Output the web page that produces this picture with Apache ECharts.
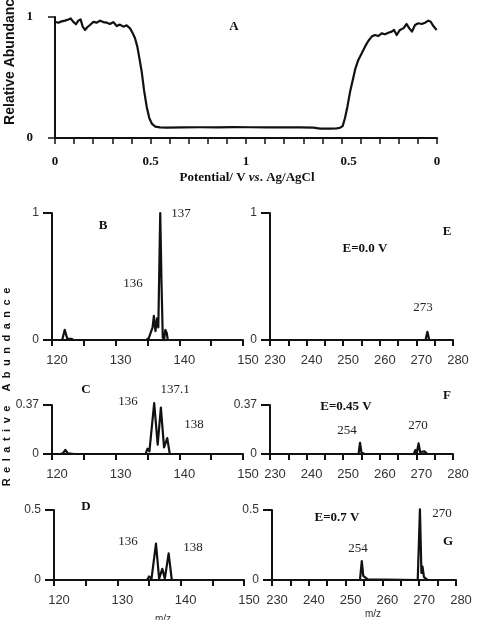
<!DOCTYPE html>
<html><head><meta charset="utf-8">
<script src="https://cdn.jsdelivr.net/npm/echarts@6/dist/echarts.min.js"></script>
<style>html,body{margin:0;padding:0;background:#fff}#c{width:478px;height:620px}</style>
</head><body><div id="c"></div>
<script>
// ---- Panel A: abundance vs potential sweep (0 -> 1 V -> 0) ----
const potentialTicks = ['0', '0.5', '1', '0.5', '0'];
const sweepA = [0.0,0.0175,0.0349,0.0524,0.0698,0.082,0.096,0.110,0.122,0.134,0.145,0.157,0.169,0.183,0.201,0.218,0.236,0.253,0.271,0.288,0.305,0.323,0.340,0.358,0.375,0.393,0.407,0.419,0.431,0.442,0.454,0.466,0.480,0.494,0.508,0.525,0.550,0.585,0.672,0.759,0.846,0.934,1.021,1.108,1.196,1.283,1.353,1.388,1.440,1.475,1.492,1.506,1.518,1.531,1.545,1.559,1.573,1.588,1.606,1.623,1.641,1.658,1.675,1.693,1.710,1.728,1.745,1.763,1.775,1.789,1.806,1.824,1.841,1.855,1.869,1.885,1.902,1.920,1.937,1.955,1.967,1.981,1.998];
const abundanceA = [0.961,0.953,0.964,0.97,0.98,0.988,0.96,0.94,0.97,0.98,0.92,0.893,0.915,0.934,0.96,0.953,0.97,0.958,0.953,0.942,0.958,0.925,0.937,0.92,0.931,0.906,0.865,0.824,0.755,0.658,0.548,0.397,0.259,0.163,0.116,0.094,0.088,0.085,0.087,0.089,0.088,0.09,0.089,0.088,0.087,0.087,0.085,0.078,0.077,0.079,0.085,0.098,0.163,0.259,0.383,0.48,0.576,0.645,0.7,0.755,0.804,0.838,0.851,0.843,0.865,0.857,0.87,0.879,0.893,0.851,0.893,0.906,0.942,0.906,0.879,0.934,0.948,0.942,0.953,0.97,0.961,0.925,0.893];

// ---- Mass spectra (m/z, relative abundance) ----
const mzB = [120,121.6,122.0,122.4,123.0,123.4,134.8,135.2,135.5,135.8,136.0,136.25,136.5,136.7,137.0,137.2,137.4,137.6,137.8,138.0,138.2,150];
const abB = [0,0,0.08,0.01,0.01,0,0,0.015,0.0,0.1,0.19,0.07,0.17,0.1,1.0,0.45,0.02,0,0.08,0.06,0,0];
const mzE = [230,272.5,273.0,273.5,280];
const abE = [0,0,0.065,0,0];
const mzC = [120,120.7,121.0,121.3,121.7,122.1,122.5,123.5,134.7,135.0,135.3,135.6,136.05,136.6,137.1,137.6,138.1,138.5,150];
const abC = [0,0,0.012,0,0.005,0.03,0.005,0,0,0.04,0.02,0.03,0.385,0.07,0.35,0.05,0.12,0,0];
const mzF = [230,254.2,254.6,255.0,255.5,256,269.3,269.7,270.1,270.6,271.0,271.5,272.2,272.6,273,280];
const abF = [0,0,0.085,0.01,0.005,0,0,0.03,0.01,0.08,0.015,0.01,0.02,0.005,0,0];
const mzD = [120,134.7,135.0,135.4,135.7,136.1,136.6,137.1,137.5,138.1,138.6,150];
const abD = [0,0,0.025,0.01,0.02,0.26,0.01,0.08,0.01,0.19,0,0];
const mzG = [230,253.9,254.4,254.8,255.3,256,256.5,269.6,270.2,270.6,270.9,271.3,271.8,272.3,280];
const abG = [0,0,0.135,0.03,0.02,0.005,0,0,0.505,0.05,0.095,0.02,0.01,0,0];

const yMaxB = 1, yMaxC = 0.37, yMaxD = 0.5;

const zip = (a, b) => a.map((v, i) => [v, b[i]]);
const BLACK = '#111';
const SERIF = '"Liberation Serif", "DejaVu Serif", serif';
const SANS = '"Liberation Sans", Arial, sans-serif';

const grids = [
  {left: 55, top: 17, width: 382, height: 121},
  {left: 52, top: 213, width: 191, height: 127},
  {left: 270, top: 213, width: 183, height: 127},
  {left: 52, top: 405, width: 191, height: 49},
  {left: 270, top: 405, width: 183, height: 49},
  {left: 54, top: 510, width: 190, height: 70},
  {left: 272, top: 510, width: 184, height: 70}
].map(g => Object.assign({outerBoundsMode: 'none', containLabel: false}, g));

const axisLine = {show: true, onZero: false, lineStyle: {color: BLACK, width: 2}};
function mzX(gi, min, max) {
  return {
    type: 'value', gridIndex: gi, min: min, max: max, interval: 5,
    axisLine: axisLine,
    axisTick: {show: true, inside: false, length: 6, lineStyle: {color: BLACK, width: 2}},
    splitLine: {show: false},
    axisLabel: {margin: 14, color: '#333', fontFamily: SANS, fontSize: 13, padding: [0, 0, 0, 10],
      formatter: v => (Math.round(v) % 10 === 0 ? String(Math.round(v)) : '')}
  };
}
function absY(gi, max, fmt) {
  return {
    type: 'value', gridIndex: gi, min: 0, max: max, interval: max,
    axisLine: axisLine,
    axisTick: {show: true, length: 9, lineStyle: {color: BLACK, width: 2}},
    splitLine: {show: false},
    axisLabel: {margin: 13, color: '#333', fontFamily: SANS, fontSize: 12,
      formatter: v => (v === 0 ? '0' : fmt)}
  };
}

const xAxes = [
  {
    type: 'value', gridIndex: 0, min: 0, max: 2, interval: 0.5,
    axisLine: axisLine,
    axisTick: {show: true, length: 6, lineStyle: {color: BLACK, width: 1.5}},
    minorTick: {show: true, splitNumber: 5, length: 6, lineStyle: {color: BLACK, width: 1.5}},
    splitLine: {show: false}, minorSplitLine: {show: false},
    axisLabel: {margin: 17, color: BLACK, fontFamily: SERIF, fontWeight: 'bold', fontSize: 13,
      formatter: v => {
        const i = Math.round(v / 0.5);
        return i === 3 ? '{s|' + potentialTicks[i] + '}' : potentialTicks[i];
      },
      rich: {s: {padding: [0, 0, 0, 14], fontFamily: SERIF, fontWeight: 'bold', fontSize: 13, color: BLACK}}}
  },
  mzX(1, 120, 150), mzX(2, 230, 280), mzX(3, 120, 150), mzX(4, 230, 280), mzX(5, 120, 150), mzX(6, 230, 280)
];
const yAxes = [
  {
    type: 'value', gridIndex: 0, min: 0, max: 1, interval: 1,
    axisLine: axisLine,
    axisTick: {show: true, length: 7, lineStyle: {color: BLACK, width: 1.5}},
    splitLine: {show: false},
    axisLabel: {margin: 22, color: BLACK, fontFamily: SERIF, fontWeight: 'bold', fontSize: 13}
  },
  absY(1, yMaxB, '1'), absY(2, yMaxB, '1'), absY(3, yMaxC, '0.37'), absY(4, yMaxC, '0.37'),
  absY(5, yMaxD, '0.5'), absY(6, yMaxD, '0.5')
];

const datasets = [zip(sweepA, abundanceA), zip(mzB, abB), zip(mzE, abE), zip(mzC, abC), zip(mzF, abF), zip(mzD, abD), zip(mzG, abG)];
const series = datasets.map((d, i) => ({
  type: 'line', xAxisIndex: i, yAxisIndex: i, data: d, showSymbol: false, symbol: 'none',
  clip: false, lineStyle: {color: BLACK, width: i === 0 ? 2.2 : 2.2, join: 'round'}, animation: false
}));

function t(x, y, text, opt) {
  return {type: 'text', x: x, y: y, silent: true, style: Object.assign({
    text: text, fill: '#222', font: '13px ' + SERIF, textAlign: 'center', textVerticalAlign: 'middle'
  }, opt || {})};
}
const bold = {font: 'bold 13px ' + SERIF, fill: BLACK};
const graphics = [
  t(234, 27, 'A', bold),
  t(103, 226, 'B', bold), t(181, 214, '137'), t(133, 284, '136'),
  t(447, 232, 'E', bold), t(365, 249, 'E=0.0 V', bold), t(423, 308, '273'),
  t(86, 390, 'C', bold), t(128, 402, '136'), t(175, 390, '137.1'), t(194, 425, '138'),
  t(447, 396, 'F', bold), t(346, 407, 'E=0.45 V', bold), t(347, 431, '254'), t(418, 426, '270'),
  t(86, 507, 'D', bold), t(128, 542, '136'), t(193, 548, '138'),
  t(337, 518, 'E=0.7 V', bold), t(442, 514, '270'), t(448, 542, 'G', bold), t(358, 549, '254'),
  t(163, 619, 'm/z', {font: '10px ' + SANS, fill: '#333'}),
  t(373, 614, 'm/z', {font: '10px ' + SANS, fill: '#333'}),
  {type: 'text', x: 247, y: 178, silent: true, style: {
    text: '{b|Potential/ V }{i|vs}{b|. Ag/AgCl}', textAlign: 'center', textVerticalAlign: 'middle',
    rich: {b: {fontFamily: SERIF, fontWeight: 'bold', fontSize: 13, fill: BLACK, color: BLACK},
           i: {fontFamily: SERIF, fontWeight: 'bold', fontStyle: 'italic', fontSize: 13, fill: BLACK, color: BLACK}}
  }},
  {type: 'text', x: 10, y: 58, rotation: Math.PI / 2, silent: true, style: {
    text: 'Relative Abundance', font: 'bold 14px ' + SANS, fill: BLACK, textAlign: 'center', textVerticalAlign: 'middle'}},
  {type: 'text', x: 7, y: 387, rotation: Math.PI / 2, silent: true, style: {
    text: 'R\u2002e\u2002l\u2002a\u2002t\u2002i\u2002v\u2002e\u2002 \u2002A\u2002b\u2002u\u2002n\u2002d\u2002a\u2002n\u2002c\u2002e',
    font: 'bold 11px ' + SANS, fill: BLACK, textAlign: 'center', textVerticalAlign: 'middle'}}
];

const chart = echarts.init(document.getElementById('c'), null, {renderer: 'canvas'});
chart.setOption({
  animation: false, backgroundColor: '#fff',
  grid: grids, xAxis: xAxes, yAxis: yAxes, series: series, graphic: graphics
});
</script></body></html>
